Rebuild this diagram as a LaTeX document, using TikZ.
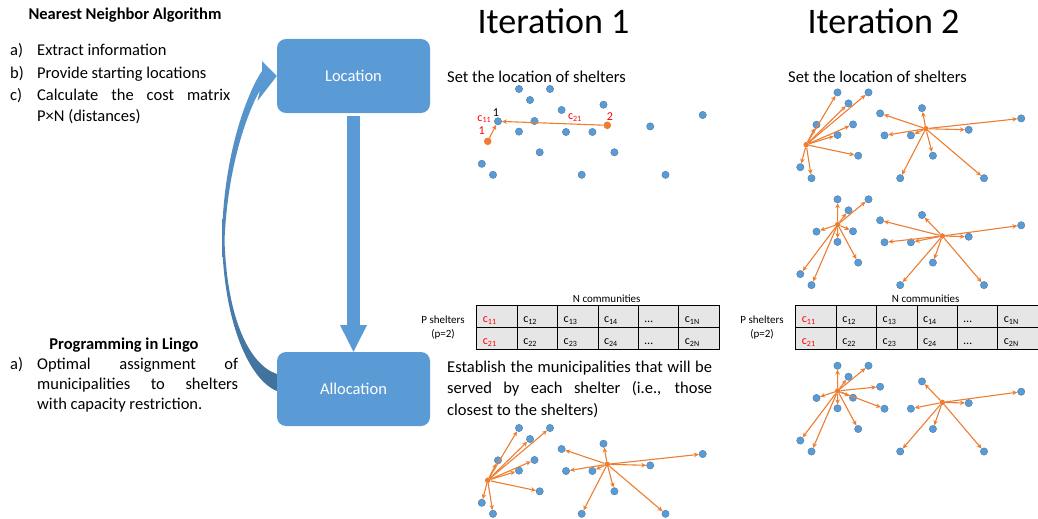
\documentclass[tikz,border=0pt]{standalone}
\usepackage{fontspec}
\setmainfont{Carlito}
\usetikzlibrary{arrows.meta,positioning}
\definecolor{boxblue}{HTML}{5B9BD5}
\definecolor{darkblue}{HTML}{41719C}
\definecolor{orangeline}{HTML}{ED7D31}
\definecolor{cellgray}{HTML}{E7E6E6}

\newcommand{\townpos}{1/519/89, 2/550/89, 3/530/100, 4/603.5/104.7, 5/561.6/110, 6/498/121.3, 7/534.5/121, 8/702.7/115, 9/519/131.6, 10/566/132, 11/592.4/132, 12/650.2/126.4, 13/539.7/152.3, 14/614.4/152.3, 15/481.8/163.8, 16/493/174.8, 17/581.7/174.8, 18/665.5/174.8}

\newcommand{\sheltermap}[7]{%
  \foreach \n/\x/\y in \townpos {\node [town] (#1\n) at (\x,\y) {};}
  \node [hub] (#1A) at (#2,#3) {};
  \node [hub] (#1B) at (#4,#5) {};
  \foreach \n in {#6} {\draw [link] (#1A) -- (#1\n);}
  \foreach \n in {#7} {\draw [link] (#1B) -- (#1\n);}
}

\newcommand{\costmatrix}[1]{%
  \node [small] (#1top) at (606.7,299) {N communities};
  \node [small] (#1side) at (443,328) {P shelters\\(p=2)};
  \foreach \k/\ra/\rb in {1/{\textcolor{red}{c\textsubscript{11}}}/{\textcolor{red}{c\textsubscript{21}}}, 2/c\textsubscript{12}/c\textsubscript{22}, 3/c\textsubscript{13}/c\textsubscript{23}, 4/c\textsubscript{14}/c\textsubscript{24}, 5/…/…, 6/c\textsubscript{1N}/c\textsubscript{2N}}
    {\node [cell] (#1r\k) at (456.5+40.4*\k,316) {\ra};
     \node [cell] (#1s\k) at (456.5+40.4*\k,338) {\rb};}
}

\begin{document}
\begin{tikzpicture}[
                x=1pt, y=-1pt,
                font=\fontsize{16.5}{21.5}\selectfont,
                box/.style={
                    rectangle,
                    fill=boxblue,
                    text=white,
                    rounded corners=9pt,
                    minimum width=153pt,
                    minimum height=74pt
                },
                txt/.style={anchor=base west, inner sep=0pt},
                head/.style={anchor=base, inner sep=0pt, font=\fontsize{16.5}{21.5}\selectfont\bfseries},
                title/.style={anchor=base, inner sep=0pt, font=\fontsize{36}{40}\selectfont},
                small/.style={inner sep=0pt, align=center, font=\fontsize{11}{14}\selectfont},
                tag/.style={inner sep=0pt, font=\fontsize{12}{14}\selectfont},
                cell/.style={
                    rectangle,
                    draw,
                    line width=0.8pt,
                    fill=cellgray,
                    minimum width=40.4pt,
                    minimum height=22pt,
                    text width=28pt,
                    inner xsep=6.2pt,
                    align=left,
                    text height=13pt,
                    text depth=0pt,
                    font=\fontsize{12}{14}\selectfont
                },
                town/.style={circle, fill=boxblue, draw=darkblue, line width=0.3pt, inner sep=0pt, minimum size=7.4pt},
                shelter/.style={circle, fill=orangeline, inner sep=0pt, minimum size=7.6pt},
                hub/.style={shelter, minimum size=5.5pt},
                link/.style={
                    draw=orangeline,
                    line width=1.1pt,
                    -{Stealth[length=5pt,width=4.5pt]}
                },
                flow/.style={
                    draw=boxblue,
                    line width=13.4pt,
                    shorten <=3pt,
                    -{Triangle[length=26.7pt,width=27pt,line width=0pt]}
                }]

                \useasboundingbox (0,0) rectangle (1038,519);

                \node [title] (iter1) at (553.5,34) {Iteration 1};
                \node [title] (iter2) at (883.5,34) {Iteration 2};

                \node [head] (nearest) at (125,20) {Nearest Neighbor Algorithm};
                \node [txt] (step_a) at (10,56) {a)};
                \node [txt] (extract) at (37,56) {Extract information};
                \node [txt] (step_b) at (10,78) {b)};
                \node [txt] (provide) at (37,78) {Provide starting locations};
                \node [txt] (step_c) at (10,100) {c)};
                \node [txt] (calculate) at (37,100) {\makebox[193pt][s]{Calculate the cost matrix}};
                \node [txt] (distances) at (37,121) {P×N (distances)};

                \node [head] (lingo) at (124,349) {Programming in Lingo};
                \node [txt] (lingo_a) at (10,369) {a)};
                \node [txt] (optimal) at (37,369) {\makebox[201pt][s]{Optimal assignment of}};
                \node [txt] (municip) at (37,389) {\makebox[201pt][s]{municipalities to shelters}};
                \node [txt] (capacity) at (37,409) {with capacity restriction.};

                \node [box] (loc) at (353.5,76) {Location};
                \node [box] (alloc) at (353.5,389) {Allocation};

                \draw [flow] (loc) -- (alloc);
                \shade [top color=boxblue, middle color=boxblue, bottom color=darkblue]
                    ([yshift=15pt]alloc.west) .. controls (250,365) and (227,320) .. (224.5,240)
                    .. controls (228,160) and (250,108) .. (260,90)
                    -- (257.5,101) -- (loc.west) -- (262,61) -- (262,71)
                    .. controls (250,88) and (223,150) .. (222,240)
                    .. controls (224,325) and (250,380) .. ([yshift=-2pt]alloc.west) -- cycle;

                \node [txt] (set1) at (447,82) {Set the location of shelters};
                \foreach \n/\x/\y in \townpos {\node [town] (s\n) at (\x,\y) {};}
                \node [shelter] (sA) at (487.7,141.3) {};
                \node [shelter] (sB) at (607.3,125.3) {};
                \draw [link] (sA) -- (s6);
                \draw [link] (sB) -- node [tag, text=red, pos=0.28, above=2pt] (c21) {c\textsubscript{21}} (s6);
                \node [tag, text=red] (c11) at (484.3,119) {c\textsubscript{11}};
                \node [tag, above=1pt of s6, xshift=-2pt] (first) {1};
                \node [tag, text=red] (shelter1) at (481.7,131) {1};
                \node [tag, text=red] (shelter2) at (610,116.7) {2};

                \costmatrix{p}

                \node [txt] (establish) at (447,372) {\makebox[265pt][s]{Establish the municipalities that will be}};
                \node [txt] (served) at (447,393) {\makebox[265pt][s]{served by each shelter (i.e., those}};
                \node [txt] (closest) at (447,415) {closest to the shelters)};

                \begin{scope}[shift={(0,339)}]
                \sheltermap{e}{487.7}{141.3}{607.3}{125.3}{1,2,3,6,7,9,13,15,16}{4,5,8,10,11,12,14,17,18}
                \end{scope}

                \node [txt] (set2) at (788,82) {Set the location of shelters};

                \begin{scope}[shift={(318.5,3.4)}]
                \sheltermap{t}{487.7}{141.3}{607.3}{125.3}{1,2,3,6,7,9,13,15,16}{4,5,8,10,11,12,14,17,18}
                \end{scope}

                \begin{scope}[shift={(318.5,110.3)}]
                \sheltermap{m}{519.2}{114.2}{623.8}{125.7}{1,2,3,6,7,9,13,15,16}{4,5,8,10,11,12,14,17,18}
                \end{scope}

                \begin{scope}[shift={(319,0)}]
                \costmatrix{q}
                \end{scope}

                \begin{scope}[shift={(318.5,276.7)}]
                \sheltermap{w}{519.2}{114.2}{623.8}{125.7}{1,2,3,5,6,7,9,10,13,15,16}{4,8,11,12,14,17,18}
                \end{scope}

            \end{tikzpicture}
\end{document}
